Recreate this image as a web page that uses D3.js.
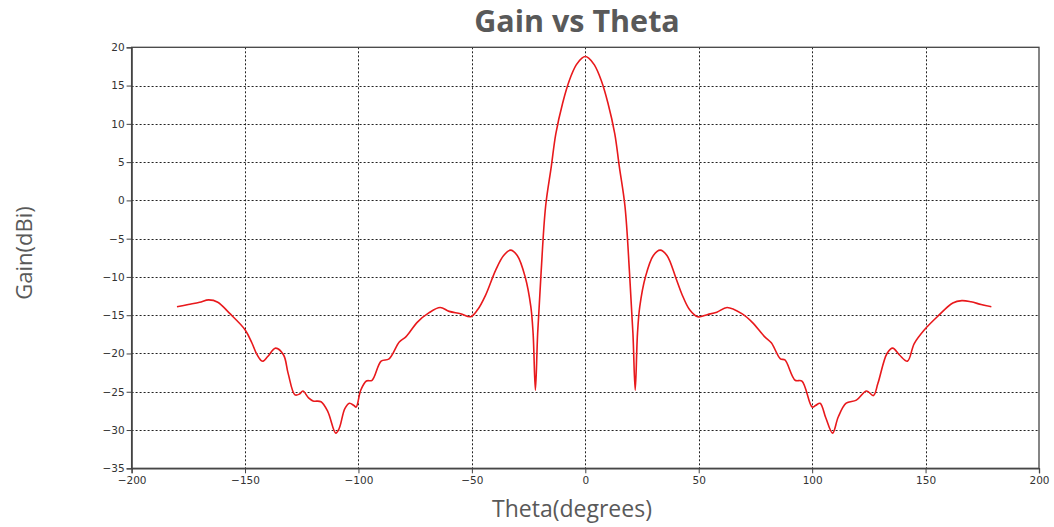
<!DOCTYPE html>
<html>
<head>
<meta charset="utf-8">
<script src="https://cdn.jsdelivr.net/npm/d3@7"></script>
<style>
  html, body { margin: 0; padding: 0; background: #fff; }
  svg { display: block; }
</style>
</head>
<body>
<svg id="chart" width="1054" height="527"></svg>
<script>
// Radiation pattern: gain (dBi) against theta (degrees)
const theta = [
  -180, -175, -170, -166, -162, -157, -150, -147, -145, -143, -142, -140,
  -136.5, -133, -131, -128, -126, -124.5, -122, -120, -116.5, -113.5, -110,
  -108.5, -106, -104, -102, -101, -99, -96.5, -94, -90, -86.5, -82, -79, -74,
  -69, -64, -60, -55, -50.5, -47.5, -44, -39.5, -36, -33, -30, -26.5, -24,
  -23, -22, -21, -19.5, -17.5, -15, -13, -10, -7, -4, -1.5, 0,
  1.5, 4, 7, 10, 13, 15, 17.5, 19.5, 21, 22, 23, 24, 26.5, 30, 33, 36, 40,
  42.5, 46, 49.5, 54, 58, 62.5, 69, 73.5, 79, 82, 86, 88, 92.5, 95.5, 100,
  101.5, 103.5, 106, 109, 111.5, 115, 119.5, 124, 127, 129, 133, 135.5,
  138.5, 142, 145, 149.5, 155.5, 162, 166, 170, 174.5, 179
];
const gain = [
  -13.9, -13.6, -13.3, -13.0, -13.3, -14.7, -16.9, -18.6, -20.0, -20.9, -21.0, -20.4,
  -19.3, -20.2, -22.6, -25.4, -25.3, -24.9, -25.8, -26.2, -26.3, -27.6, -30.4,
  -29.8, -27.2, -26.5, -26.8, -27.0, -24.8, -23.6, -23.5, -21.0, -20.7, -18.5, -17.8, -15.9,
  -14.7, -14.0, -14.5, -14.8, -15.2, -14.3, -12.4, -9.1, -7.2, -6.5, -7.2, -10.0, -13.9,
  -17.4, -24.8, -17.4, -9.5, -0.8, 4.4, 8.7, 12.7, 15.7, 17.7, 18.6, 18.8,
  18.6, 17.7, 15.7, 12.7, 8.7, 4.4, -0.8, -9.5, -17.4, -24.8, -17.4, -13.9, -10.0, -7.2, -6.5, -7.2, -10.2,
  -12.2, -14.3, -15.2, -14.9, -14.6, -14.0, -14.8, -15.9, -17.8, -18.6, -20.7, -20.85, -23.5, -23.6, -27.0,
  -26.8, -26.5, -28.4, -30.4, -28.3, -26.5, -26.1, -24.9, -25.5, -23.9, -20.0, -19.3,
  -20.2, -21.0, -18.7, -16.9, -15.1, -13.4, -13.1, -13.25, -13.6, -13.9
];
const xTicks = [-200, -150, -100, -50, 0, 50, 100, 150, 200];
const yTicks = [-35, -30, -25, -20, -15, -10, -5, 0, 5, 10, 15, 20];

const title = "Gain vs Theta";
const xTitle = "Theta(degrees)";
const yTitle = "Gain(dBi)";

const svg = d3.select("#chart");
const plot = { left: 131.6, right: 1039, top: 47.3, bottom: 468.3 };

const x = d3.scaleLinear().domain([-200, 200]).range([plot.left, plot.right]);
const y = d3.scaleLinear().domain([-35, 20]).range([plot.bottom, plot.top]);

const tickFont = "Tahoma, 'DejaVu Sans', sans-serif";

// dashed grid
const grid = svg.append("g");
grid.selectAll("line.v").data(xTicks.filter(d => d > -200 && d < 200)).join("line")
  .attr("x1", d => Math.round(x(d)) + 0.5).attr("x2", d => Math.round(x(d)) + 0.5)
  .attr("y1", plot.top).attr("y2", plot.bottom)
  .attr("stroke", "#222").attr("stroke-width", 1).attr("stroke-dasharray", "2,2");
grid.selectAll("line.h").data(yTicks.filter(d => d > -35 && d < 20)).join("line")
  .attr("y1", d => Math.round(y(d)) + 0.5).attr("y2", d => Math.round(y(d)) + 0.5)
  .attr("x1", plot.left).attr("x2", plot.right)
  .attr("stroke", "#222").attr("stroke-width", 1).attr("stroke-dasharray", "2,2");

// frame
svg.append("rect")
  .attr("x", plot.left).attr("y", plot.top)
  .attr("width", plot.right - plot.left).attr("height", plot.bottom - plot.top)
  .attr("fill", "none").attr("stroke", "#444").attr("stroke-width", 1.3);

// axes
const xAxis = svg.append("g")
  .attr("transform", `translate(0,${plot.bottom})`)
  .call(d3.axisBottom(x).tickValues(xTicks).tickSize(5).tickPadding(3).tickFormat(d3.format("d")));
const yAxis = svg.append("g")
  .attr("transform", `translate(${plot.left},0)`)
  .call(d3.axisLeft(y).tickValues(yTicks).tickSize(5).tickPadding(2).tickFormat(d3.format("d")));
[xAxis, yAxis].forEach(a => {
  a.select(".domain").attr("stroke", "#444").attr("stroke-width", 1.3);
  a.selectAll(".tick line").attr("stroke", "#444");
  a.selectAll(".tick text").attr("fill", "#333")
    .style("font-family", tickFont).style("font-size", "10.5px");
});

// gain curve
const pts = theta.map((t, i) => [t, gain[i]]);
svg.append("path")
  .datum(pts)
  .attr("fill", "none")
  .attr("stroke", "#e8191c")
  .attr("stroke-width", 1.6)
  .attr("stroke-linejoin", "round")
  .attr("d", d3.line().x(d => x(d[0])).y(d => y(d[1])).curve(d3.curveCatmullRom.alpha(0.5)));

// titles
svg.append("text")
  .attr("x", 577).attr("y", 32)
  .attr("text-anchor", "middle")
  .attr("fill", "#595959")
  .style("font-family", "'Open Sans', sans-serif")
  .style("font-weight", "bold").style("font-size", "30.5px")
  .text(title);

svg.append("text")
  .attr("x", 572).attr("y", 517)
  .attr("text-anchor", "middle")
  .attr("fill", "#595959")
  .style("font-family", "'Open Sans', sans-serif")
  .style("font-size", "23px")
  .text(xTitle);

svg.append("text")
  .attr("transform", "translate(32,253) rotate(-90)")
  .attr("text-anchor", "middle")
  .attr("fill", "#595959")
  .style("font-family", "'Open Sans', sans-serif")
  .style("font-size", "22px")
  .text(yTitle);
</script>
</body>
</html>
